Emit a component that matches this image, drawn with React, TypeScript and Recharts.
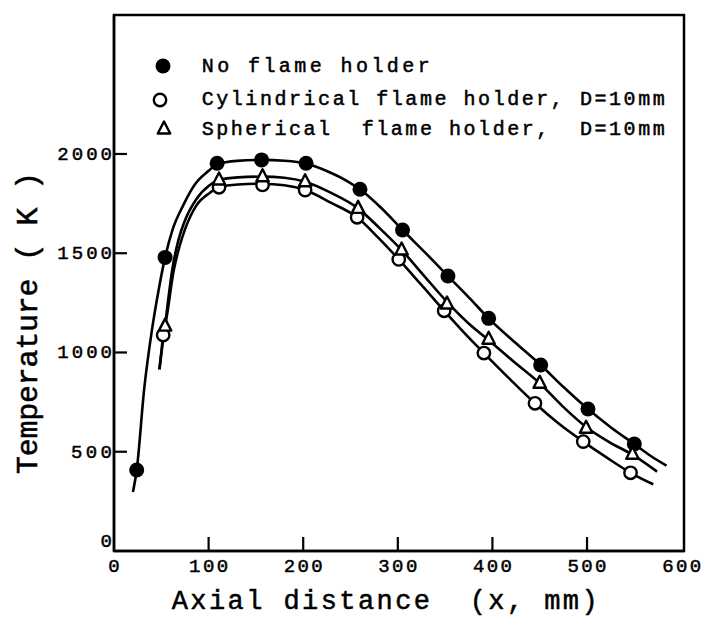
import { ComposedChart, Label, Line, ReferenceArea, Scatter, XAxis, YAxis } from "recharts";

const X_TICKS = [0, 100, 200, 300, 400, 500, 600];
const Y_TICKS = [0, 500, 1000, 1500, 2000];
const X_MAX = 602.5;
const Y_MAX = 2700;

// measured points, [x (mm), T (K)]
const noHolderPoints = [
  [24, 408], [54, 1479], [109, 1953], [156, 1970], [203, 1953], [260, 1822],
  [305, 1617], [353, 1385], [396, 1172], [451, 937], [501, 715], [550, 539],
];
const cylinderPoints = [
  [52, 1088], [111, 1832], [157, 1844], [202, 1818], [257, 1681], [301, 1469],
  [349, 1210], [391, 997], [445, 744], [496, 551], [546, 394],
];
const spherePoints = [
  [54, 1133], [111, 1869], [157, 1885], [202, 1860], [258, 1726], [304, 1516],
  [352, 1244], [396, 1067], [450, 845], [499, 618], [548, 487],
];

// faired curves as drawn in the figure
const noHolderCurve = [
  [20, 297], [24, 408], [32, 820], [40, 1110], [47, 1310], [54, 1479],
  [62, 1620], [73, 1740], [86, 1850], [100, 1915], [109, 1948], [130, 1965],
  [156, 1970], [180, 1966], [203, 1952], [226, 1912], [246, 1865], [260, 1822],
  [282, 1730], [305, 1617], [330, 1498], [353, 1385], [375, 1278], [396, 1172],
  [424, 1050], [451, 937], [476, 822], [501, 715], [526, 620], [550, 539],
  [567, 480], [584, 430],
];
const cylinderCurve = [
  [48, 915], [50, 1000], [52, 1088], [55.7, 1180], [63, 1410], [69, 1530],
  [75, 1620], [87, 1740], [101.5, 1805], [111, 1832], [131, 1846], [157, 1850],
  [180, 1842], [202, 1818], [229, 1755], [257, 1681], [279, 1580], [301, 1469],
  [325, 1340], [349, 1210], [370, 1100], [391, 997], [418, 868], [445, 744],
  [470, 642], [496, 551], [521, 470], [546, 394], [570, 336],
];
const sphereCurve = [
  [48, 915], [51, 1030], [54, 1133], [56, 1215], [62, 1430], [68, 1565],
  [75, 1665], [87, 1772], [101, 1842], [111, 1869], [131, 1882], [157, 1886],
  [180, 1880], [202, 1860], [229, 1805], [258, 1726], [281, 1625], [304, 1516],
  [328, 1385], [352, 1255], [374, 1150], [396, 1062], [423, 952], [450, 845],
  [474, 730], [499, 625], [523, 550], [548, 485], [574, 400],
];

const LEGEND = [
  { name: "No flame holder", marker: "filled", width: 228 },
  { name: "Cylindrical flame holder, D=10mm", marker: "open", width: 463 },
  { name: "Spherical  flame holder,  D=10mm", marker: "triangle", width: 463 },
];

const toRows = (pairs: number[][]) => pairs.map(([x, t]) => ({ x, t }));

const FONT = "'Liberation Mono', 'DejaVu Sans Mono', monospace";
const W = 703;
const H = 618;
const PLOT_LEFT = 114;
const PLOT_BOTTOM = 551;

// typewriter print is a bit heavier than the regular face
const INK = { fill: "#000", stroke: "#000", strokeWidth: 0.5 };

function FilledDot({ cx, cy }: any) {
  return <circle cx={cx} cy={cy} r={7.5} fill="#000" />;
}

function OpenDot({ cx, cy }: any) {
  return <circle cx={cx} cy={cy} r={6.2} fill="#fff" stroke="#000" strokeWidth={2.4} />;
}

function OpenTriangle({ cx, cy }: any) {
  return (
    <path
      d={`M${cx},${cy - 7.5} L${cx + 6.2},${cy + 4.5} L${cx - 6.2},${cy + 4.5} Z`}
      fill="#fff"
      stroke="#000"
      strokeWidth={2.4}
      strokeLinejoin="round"
    />
  );
}

const MARKERS: Record<string, (p: any) => JSX.Element> = {
  filled: FilledDot,
  open: OpenDot,
  triangle: OpenTriangle,
};

function XTick({ x, payload }: any) {
  const v = payload.value;
  const label = String(v);
  return (
    <g>
      {v > 0 && v < 600 && (
        <line x1={x} x2={x} y1={PLOT_BOTTOM} y2={PLOT_BOTTOM - 14} stroke="#000" strokeWidth={2.2} />
      )}
      <text
        x={x}
        y={572}
        textAnchor="middle"
        fontFamily={FONT}
        fontSize={19}
        {...INK}
        textLength={label.length > 1 ? label.length * 13 : undefined}
        lengthAdjust="spacing"
      >
        {label}
      </text>
    </g>
  );
}

function YTick({ y, payload }: any) {
  const v = payload.value;
  const label = String(v);
  return (
    <g>
      {v > 0 && (
        <line x1={PLOT_LEFT} x2={PLOT_LEFT + 13} y1={y} y2={y} stroke="#000" strokeWidth={2.2} />
      )}
      <text
        x={112}
        y={v === 0 ? y - 4 : y + 6}
        textAnchor="end"
        fontFamily={FONT}
        fontSize={19}
        {...INK}
        textLength={label.length > 1 ? label.length * 13.7 : undefined}
        lengthAdjust="spacing"
      >
        {label}
      </text>
    </g>
  );
}

function XTitle() {
  return (
    <text
      x={171.7}
      y={609}
      fontFamily={FONT}
      fontSize={27}
      {...INK}
      textLength={426}
      lengthAdjust="spacing"
      xmlSpace="preserve"
      style={{ whiteSpace: "pre" }}
    >
      {"Axial distance  (x, mm)"}
    </text>
  );
}

function YTitle() {
  return (
    <text
      transform="translate(37,323) rotate(-90)"
      textAnchor="middle"
      fontFamily={FONT}
      fontSize={30}
      {...INK}
      textLength={302}
      lengthAdjust="spacing"
      xmlSpace="preserve"
      style={{ whiteSpace: "pre" }}
    >
      {"Temperature ( K )"}
    </text>
  );
}

function LegendOverlay() {
  const rows = [
    { mx: 163, my: 66, ty: 72 },
    { mx: 160, my: 100, ty: 105 },
    { mx: 164, my: 129, ty: 135 },
  ];
  return (
    <svg
      width={W}
      height={H}
      style={{ position: "absolute", left: 0, top: 0, pointerEvents: "none" }}
    >
      {LEGEND.map((item, i) => {
        const Marker = MARKERS[item.marker];
        return (
          <g key={item.name}>
            <Marker cx={rows[i].mx} cy={rows[i].my} />
            <text
              x={201.7}
              y={rows[i].ty}
              fontFamily={FONT}
              fontSize={20}
              {...INK}
              textLength={item.width}
              lengthAdjust="spacing"
              xmlSpace="preserve"
              style={{ whiteSpace: "pre" }}
            >
              {item.name}
            </text>
          </g>
        );
      })}
    </svg>
  );
}

const axisLine = { stroke: "#000", strokeWidth: 2.5 };

export default function App() {
  return (
    <div style={{ position: "absolute", left: 0, top: 0, width: W, height: H, background: "#fff" }}>
      <ComposedChart width={W} height={H} margin={{ top: 15, right: 19, bottom: 37, left: 54 }}>
        <XAxis
          type="number"
          dataKey="x"
          domain={[0, X_MAX]}
          ticks={X_TICKS}
          tick={<XTick />}
          tickLine={false}
          axisLine={axisLine}
          height={30}
          interval={0}
        >
          <Label content={<XTitle />} />
        </XAxis>
        <YAxis
          type="number"
          dataKey="t"
          domain={[0, Y_MAX]}
          ticks={Y_TICKS}
          tick={<YTick />}
          tickLine={false}
          axisLine={axisLine}
          width={60}
          interval={0}
        >
          <Label content={<YTitle />} />
        </YAxis>
        {/* plot frame */}
        <ReferenceArea
          x1={0}
          x2={X_MAX}
          y1={0}
          y2={Y_MAX}
          fill="none"
          fillOpacity={0}
          stroke="#000"
          strokeWidth={2.5}
          strokeOpacity={1}
          ifOverflow="visible"
        />
        <Line data={toRows(noHolderCurve)} dataKey="t" type="monotone" stroke="#000" strokeWidth={2.6} dot={false} activeDot={false} isAnimationActive={false} />
        <Line data={toRows(sphereCurve)} dataKey="t" type="monotone" stroke="#000" strokeWidth={2.6} dot={false} activeDot={false} isAnimationActive={false} />
        <Line data={toRows(cylinderCurve)} dataKey="t" type="monotone" stroke="#000" strokeWidth={2.6} dot={false} activeDot={false} isAnimationActive={false} />
        <Scatter data={toRows(noHolderPoints)} dataKey="t" shape={(p: any) => <FilledDot cx={p.cx} cy={p.cy} />} isAnimationActive={false} />
        <Scatter data={toRows(cylinderPoints)} dataKey="t" shape={(p: any) => <OpenDot cx={p.cx} cy={p.cy} />} isAnimationActive={false} />
        <Scatter data={toRows(spherePoints)} dataKey="t" shape={(p: any) => <OpenTriangle cx={p.cx} cy={p.cy} />} isAnimationActive={false} />
      </ComposedChart>
      <LegendOverlay />
    </div>
  );
}
